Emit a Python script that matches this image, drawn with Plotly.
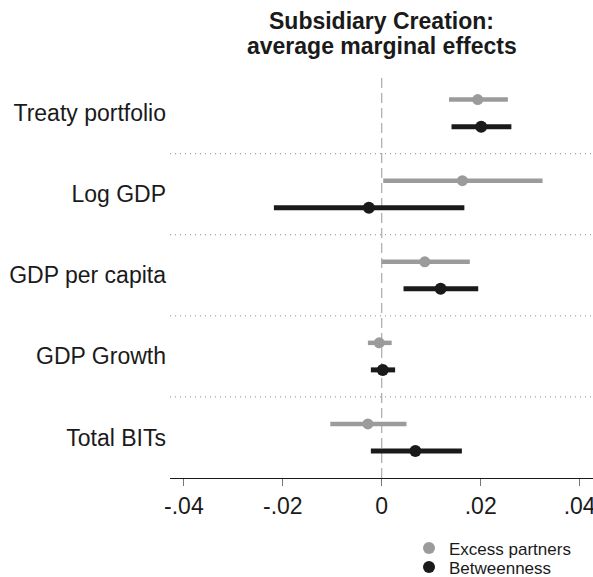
import plotly.graph_objects as go

categories = ["Treaty portfolio", "Log GDP", "GDP per capita", "GDP Growth", "Total BITs"]

excess_est = [0.0194, 0.0163, 0.0087, -0.0005, -0.0028]
excess_lo = [0.0136, 0.0003, 0.0000, -0.0028, -0.0104]
excess_hi = [0.0255, 0.0325, 0.0178, 0.0020, 0.0050]

betw_est = [0.0201, -0.0026, 0.0119, 0.0002, 0.0068]
betw_lo = [0.0141, -0.0218, 0.0044, -0.0022, -0.0022]
betw_hi = [0.0262, 0.0167, 0.0195, 0.0027, 0.0162]

xtick_vals = [-0.04, -0.02, 0, 0.02, 0.04]
xtick_text = ["-.04", "-.02", "0", ".02", ".04"]

title_lines = ["Subsidiary Creation:", "average marginal effects"]

FONT = "Liberation Sans, Arial, Helvetica, sans-serif"
GRAY = "#9b9b9b"
BLACK = "#1a1a1a"

W, H = 593, 577
ML, MR, MT, MB = 170, 0, 78, 99
PH = H - MT - MB

n = len(categories)
y_excess = [3 * i for i in range(n)]
y_betw = [3 * i + 1 for i in range(n)]
y_label = [3 * i + 0.5 for i in range(n)]
y_sep = [3 * i + 2 for i in range(n - 1)]

fig = go.Figure()


def add_series(est, lo, hi, ys, color, name, size, thick, legend):
    fig.add_trace(go.Scatter(
        x=est, y=ys, mode="markers", name=name, legend=legend,
        marker=dict(color=color, size=size, line=dict(width=0)),
        error_x=dict(type="data", symmetric=False,
                     array=[h - e for h, e in zip(hi, est)],
                     arrayminus=[e - l for e, l in zip(est, lo)],
                     color=color, thickness=thick, width=0),
        cliponaxis=False,
    ))


add_series(excess_est, excess_lo, excess_hi, y_excess, GRAY, "Excess partners", 11, 4.5, "legend")
add_series(betw_est, betw_lo, betw_hi, y_betw, BLACK, "Betweenness", 12, 5, "legend2")

shapes = [dict(type="line", xref="x", yref="paper", x0=0, x1=0, y0=0, y1=1,
               line=dict(color="#999999", width=1, dash="10px,5px"), layer="below")]
for ys in y_sep:
    shapes.append(dict(type="line", xref="paper", yref="y", x0=0, x1=1, y0=ys, y1=ys,
                       line=dict(color="#888888", width=1, dash="1px,4px"), layer="below"))


def ypaper(px):
    return 1 + (MT - px) / PH


annotations = [
    dict(text="<b>%s</b>" % t, xref="paper", yref="paper", x=0.5, y=ypaper(py),
         xanchor="center", yanchor="middle", showarrow=False,
         font=dict(family=FONT, size=23, color=BLACK))
    for t, py in zip(title_lines, [21, 46])
]

leg_common = dict(xanchor="left", yanchor="top", bgcolor="rgba(0,0,0,0)",
                  font=dict(family=FONT, size=17, color=BLACK), itemsizing="constant")
leg_x = (409 - ML) / (W - ML - MR)

fig.update_layout(
    width=W, height=H,
    margin=dict(l=ML, r=MR, t=MT, b=MB, autoexpand=False),
    paper_bgcolor="white", plot_bgcolor="white",
    font=dict(family=FONT, color=BLACK, size=23),
    xaxis=dict(range=[-0.0428, 0.0427], tickvals=xtick_vals, ticktext=xtick_text,
               showgrid=False, zeroline=False, showline=True, linecolor=BLACK, linewidth=1,
               ticks="outside", ticklen=7, tickcolor="#777777", tickwidth=1,
               automargin=False, ticklabeloverflow="allow",
               tickfont=dict(size=23, color=BLACK)),
    yaxis=dict(range=[14.0, -0.8], tickvals=y_label, ticktext=categories,
               showgrid=False, zeroline=False, showline=False, ticks="",
               ticklabelstandoff=3, automargin=False,
               tickfont=dict(size=23, color=BLACK)),
    shapes=shapes,
    annotations=annotations,
    showlegend=True,
    legend=dict(x=leg_x, y=ypaper(530.5), **leg_common),
    legend2=dict(x=leg_x, y=ypaper(549.5), **leg_common),
)

fig.write_html("out.html",
               config={"displayModeBar": False},
               post_script="document.body.style.margin='0';document.body.style.overflow='hidden';")
